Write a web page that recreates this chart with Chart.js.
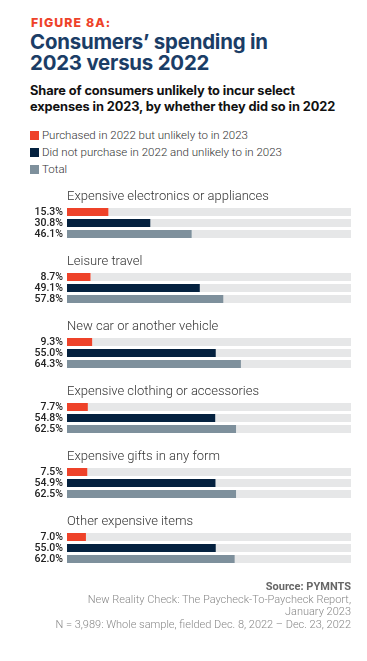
<!DOCTYPE html>
<html lang="en">
<head>
<meta charset="UTF-8">
<title>Figure 8A</title>
<script src="https://cdn.jsdelivr.net/npm/chart.js"></script>
<style>
  body { margin: 0; background: #fff; width: 367px; height: 661px; position: relative; overflow: hidden; font-family: Roboto, sans-serif; }
  .abs { position: absolute; white-space: nowrap; }
  #fig { left: 31px; top: 15px; font: 800 12.3px Inter, sans-serif; letter-spacing: 1.1px; color: #EE4229; }
  #title { left: 30px; top: 31px; font: 700 20.4px/21px Inter, sans-serif; color: #1B3D66; letter-spacing: -0.2px; }
  #sub { left: 30px; top: 83px; font: 700 12.8px/15.5px Inter, sans-serif; color: #111; letter-spacing: -0.1px; }
  .leg { left: 30px; font: 300 11.5px Roboto, sans-serif; color: #333; }
  .leg span { display: inline-block; width: 9px; height: 9px; margin-right: 3px; vertical-align: -1px; }
  #foot { right: 16px; top: 581px; text-align: right; font: 300 11px/12.6px Roboto, sans-serif; color: #888; }
  #foot b { font-weight: 700; color: #666; }
  #wrap { position: absolute; left: 0; top: 160px; width: 367px; height: 430px; }
</style>
</head>
<body>
<div class="abs" id="fig">FIGURE 8A:</div>
<div class="abs" id="title">Consumers’ spending in<br>2023 versus 2022</div>
<div class="abs" id="sub">Share of consumers unlikely to incur select<br>expenses in 2023, by whether they did so in 2022</div>
<div class="abs leg" style="top:128px"><span style="background:#EE4229"></span>Purchased in 2022 but unlikely to in 2023</div>
<div class="abs leg" style="top:145px"><span style="background:#04213F"></span>Did not purchase in 2022 and unlikely to in 2023</div>
<div class="abs leg" style="top:162px"><span style="background:#7E909C"></span>Total</div>
<div id="wrap"><canvas id="chart"></canvas></div>
<div class="abs" id="foot"><b>Source: PYMNTS</b><br>New Reality Check: The Paycheck-To-Paycheck Report,<br>January 2023<br>N = 3,989: Whole sample, fielded Dec. 8, 2022 – Dec. 23, 2022</div>

<script>
// data
const categories = [
  'Expensive electronics or appliances',
  'Leisure travel',
  'New car or another vehicle',
  'Expensive clothing or accessories',
  'Expensive gifts in any form',
  'Other expensive items'
];
const purchased2022 = [15.3, 8.7, 9.3, 7.7, 7.5, 7.0];
const notPurchased2022 = [30.8, 49.1, 55.0, 54.8, 54.9, 55.0];
const totals = [46.1, 57.8, 64.3, 62.5, 62.5, 62.0];

const axisMax = 105; // grey track runs a bit past 100%
const trackColor = '#E6E7E8';

function rest(arr) { return arr.map(v => axisMax - v); }

// titles above each group + value labels on the left
const labelPlugin = {
  id: 'groupLabels',
  afterDatasetsDraw(chart) {
    const ctx = chart.ctx;
    const area = chart.chartArea;
    const y = chart.scales.y;
    ctx.save();
    ctx.fillStyle = '#333';
    ctx.font = '300 13px Roboto';
    ctx.textAlign = 'left';
    ctx.textBaseline = 'middle';
    categories.forEach((c, i) => {
      ctx.fillText(c, area.left, y.getPixelForValue(i) - 26);
    });
    ctx.font = '500 10.5px Roboto';
    ctx.fillStyle = '#222';
    ctx.textAlign = 'right';
    [0, 2, 4].forEach(di => {
      const meta = chart.getDatasetMeta(di);
      const vals = chart.data.datasets[di].data;
      meta.data.forEach((bar, i) => {
        ctx.fillText(vals[i].toFixed(1) + '%', area.left - 4, bar.y + 0.5);
      });
    });
    ctx.restore();
  }
};

const barOpts = { categoryPercentage: 0.5077, barPercentage: 0.727 };

new Chart(document.getElementById('chart'), {
  type: 'bar',
  data: {
    labels: categories,
    datasets: [
      { data: purchased2022, backgroundColor: '#EE4229', stack: 'a', ...barOpts },
      { data: rest(purchased2022), backgroundColor: trackColor, stack: 'a', ...barOpts },
      { data: notPurchased2022, backgroundColor: '#04213F', stack: 'b', ...barOpts },
      { data: rest(notPurchased2022), backgroundColor: trackColor, stack: 'b', ...barOpts },
      { data: totals, backgroundColor: '#7E909C', stack: 'c', ...barOpts },
      { data: rest(totals), backgroundColor: trackColor, stack: 'c', ...barOpts }
    ]
  },
  options: {
    indexAxis: 'y',
    responsive: true,
    maintainAspectRatio: false,
    animation: false,
    layout: { padding: { left: 67, right: 16, top: 30.5, bottom: 9.5 } },
    scales: {
      x: { display: false, stacked: true, min: 0, max: axisMax },
      y: { display: false }
    },
    plugins: {
      legend: { display: false },
      tooltip: { enabled: false }
    }
  },
  plugins: [labelPlugin]
});
</script>
</body>
</html>
